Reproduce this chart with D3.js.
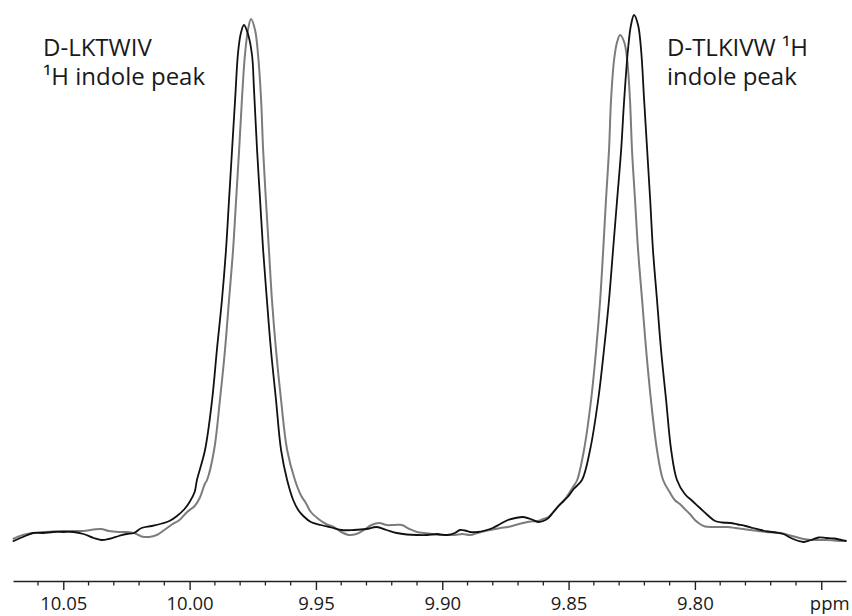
<!DOCTYPE html>
<html>
<head>
<meta charset="utf-8">
<script src="https://cdn.jsdelivr.net/npm/d3@7"></script>
<style>
	body { margin: 0; background: #fff; }
	svg text { font-family: "Open Sans", "Noto Sans", sans-serif; fill: #1a1a1a; }
</style>
</head>
<body>
<div id="chart"></div>
<script>
// chemical shift (ppm) vs intensity (a.u.)
var grayTrace = [
	[10.070,1],[10.066,5],[10.062,7],[10.058,8],[10.054,8.5],[10.050,9],[10.046,9],[10.042,9],[10.038,10.5],[10.035,11],
	[10.032,9],[10.028,8],[10.025,8],[10.022,7],[10.019,3.5],[10.016,3],[10.013,5],[10.010,10],[10.007,15.5],[10.004,20],
	[10.001,28],[9.998,34],[9.996,42],[9.994,56],
	[9.9931,60],[9.9903,90],[9.9880,140],[9.9860,190],[9.9844,240],[9.9828,290],[9.9816,340],[9.9804,390],[9.9793,440],
	[9.9781,485],[9.9769,510],[9.9757,521],[9.9741,510],[9.9729,485],[9.9717,440],[9.9709,390],[9.9698,340],[9.9686,290],
	[9.9674,240],[9.9658,190],[9.9638,140],[9.9614,90],[9.9583,60],
	[9.956,45],[9.954,37],[9.952,28],
	[9.949,21],[9.946,16],[9.943,13],[9.940,8],[9.937,5],[9.934,6],[9.931,10],[9.928,15],[9.925,17],[9.922,15],
	[9.919,15],[9.916,15],[9.913,11],[9.910,8],[9.907,7],[9.904,6],[9.901,5],[9.898,5],[9.895,5],[9.892,6],
	[9.889,5],[9.886,7],[9.883,9],[9.880,10.5],[9.877,12],[9.874,13],[9.871,15],[9.868,17],[9.865,18.5],[9.862,19],
	[9.860,21],[9.858,23],[9.856,28],[9.854,34],[9.852,39],[9.850,46],[9.848,54],
	[9.8466,60],[9.8439,90],[9.8411,140],[9.8391,190],[9.8375,240],[9.8363,290],[9.8352,340],[9.8340,390],[9.8332,440],
	[9.8320,480],[9.8308,498],[9.8296,505],[9.8280,498],[9.8268,480],[9.8257,440],[9.8249,390],[9.8237,340],[9.8225,290],
	[9.8209,240],[9.8193,190],[9.8174,140],[9.8150,90],[9.8126,60],
	[9.810,48],[9.808,40],[9.806,36],[9.804,31],[9.802,26],[9.800,20],[9.798,16],[9.796,13.5],[9.793,13],[9.790,13],
	[9.787,13],[9.784,12],[9.781,11],[9.778,10],[9.775,9],[9.772,8],[9.769,7.5],[9.766,7],[9.763,5],[9.760,3],
	[9.757,1],[9.754,0],[9.751,0],[9.748,0],[9.745,-0.5],[9.742,-1],[9.740,-1]
];

var blackTrace = [
	[10.070,-1.5],[10.066,3],[10.062,7],[10.058,7],[10.054,8],[10.050,8],[10.046,8],[10.042,6],[10.038,2],[10.035,0],
	[10.032,1],[10.028,4],[10.025,6],[10.022,7],[10.019,12],[10.015,14],[10.011,16.5],[10.008,19],[10.005,24],[10.002,31],
	[10.000,38],[9.998,48],
	[9.9971,60],[9.9939,90],[9.9911,140],[9.9892,190],[9.9872,240],[9.9856,290],[9.9844,340],[9.9832,390],[9.9820,440],
	[9.9808,488],[9.9797,507],[9.9785,515],[9.9769,506],[9.9753,485],[9.9745,450],[9.9733,390],[9.9721,340],[9.9709,290],
	[9.9694,240],[9.9678,190],[9.9658,140],[9.9638,90],[9.9614,60],
	[9.959,40],[9.957,30],[9.955,24],[9.952,18],
	[9.948,15],[9.944,12.5],[9.940,10],[9.935,10],[9.930,11],[9.926,13],[9.922,10],[9.918,7],[9.914,5.5],[9.910,5],
	[9.906,5],[9.902,6],[9.898,5],[9.895,7],[9.893,10],[9.891,9.5],[9.889,8],[9.886,8],[9.883,9.5],[9.880,12],
	[9.877,16],[9.874,20],[9.871,22],[9.868,23],[9.865,21],[9.862,18],[9.860,19],[9.858,22],[9.856,28],[9.854,34],
	[9.852,39],[9.850,44],[9.848,51],
	[9.8447,60],[9.8415,90],[9.8383,140],[9.8360,190],[9.8340,240],[9.8324,290],[9.8308,340],[9.8292,390],[9.8280,440],
	[9.8265,490],[9.8253,515],[9.8241,525],[9.8225,515],[9.8213,490],[9.8201,440],[9.8189,390],[9.8177,340],[9.8166,290],
	[9.8150,240],[9.8134,190],[9.8114,140],[9.8094,90],[9.8071,60],
	[9.804,46],[9.801,39],
	[9.798,32],[9.795,25],[9.792,19],[9.789,17.5],[9.786,17],[9.783,15.5],[9.780,14],[9.777,12],[9.774,10],[9.771,8.5],
	[9.768,7.5],[9.765,6],[9.762,2],[9.759,-1],[9.757,-2],[9.754,0],[9.751,2.5],[9.748,2],[9.745,1.5],[9.742,0],[9.740,-1]
];

var majorTicks = [10.05, 10.00, 9.95, 9.90, 9.85, 9.80, 9.75];
var majorLabels = ["10.05", "10.00", "9.95", "9.90", "9.85", "9.80", "ppm"];
var minorTicks = [10.06, 10.04, 10.03, 10.02, 10.01, 9.99, 9.98, 9.97, 9.96, 9.94, 9.93, 9.92, 9.91,
	9.89, 9.88, 9.87, 9.86, 9.84, 9.83, 9.82, 9.81, 9.79, 9.78, 9.77, 9.76];

var leftNote = ["D-LKTWIV", "\u00B9H indole peak"];
var rightNote = ["D-TLKIVW \u00B9H", "indole peak"];

var width = 852, height = 616;
var axisY = 581;

var svg = d3.select("#chart").append("svg")
	.attr("width", width)
	.attr("height", height);

// ppm axis runs right to left
var x = d3.scaleLinear().domain([10.0699, 9.7402]).range([13, 846]);
var y = d3.scaleLinear().domain([0, 525]).range([540, 15]);

var line = d3.line()
	.x(d => x(d[0]))
	.y(d => y(d[1]))
	.curve(d3.curveCatmullRom.alpha(0.5));

svg.append("path")
	.datum(grayTrace)
	.attr("fill", "none")
	.attr("stroke", "#7c7c7c")
	.attr("stroke-width", 2)
	.attr("stroke-linejoin", "round")
	.attr("d", line);

svg.append("path")
	.datum(blackTrace)
	.attr("fill", "none")
	.attr("stroke", "#111")
	.attr("stroke-width", 1.8)
	.attr("stroke-linejoin", "round")
	.attr("d", line);

// bottom axis: major ticks with labels, minor ticks every 0.01
var axis = svg.append("g").attr("transform", "translate(0," + axisY + ")");

axis.call(d3.axisBottom(x)
	.tickValues(majorTicks)
	.tickSize(9)
	.tickSizeOuter(0)
	.tickPadding(7)
	.tickFormat((d, i) => majorLabels[i]));

axis.select(".domain").attr("stroke", "#222").attr("stroke-width", 1.4);
axis.selectAll(".tick line").attr("stroke", "#222").attr("stroke-width", 1.4);
axis.selectAll(".tick text")
	.attr("font-size", 18.5)
	.attr("font-family", "'Open Sans', 'Noto Sans', sans-serif")
	.attr("fill", "#1a1a1a")
	.attr("dx", (d, i) => majorLabels[i] == "ppm" ? 8 : 0);

axis.selectAll("line.minor")
	.data(minorTicks)
	.enter().append("line")
	.attr("class", "minor")
	.attr("x1", d => x(d)).attr("x2", d => x(d))
	.attr("y1", 0).attr("y2", 4.5)
	.attr("stroke", "#222")
	.attr("stroke-width", 1.3);

// peak annotations, one text element per line
function note(lines, tx, ty) {
	svg.append("g").selectAll("text")
		.data(lines)
		.enter().append("text")
		.attr("x", tx)
		.attr("y", (d, i) => ty + i * 29)
		.attr("font-size", 24)
		.text(d => d);
}
note(leftNote, 43, 56);
note(rightNote, 667, 56);
</script>
</body>
</html>
